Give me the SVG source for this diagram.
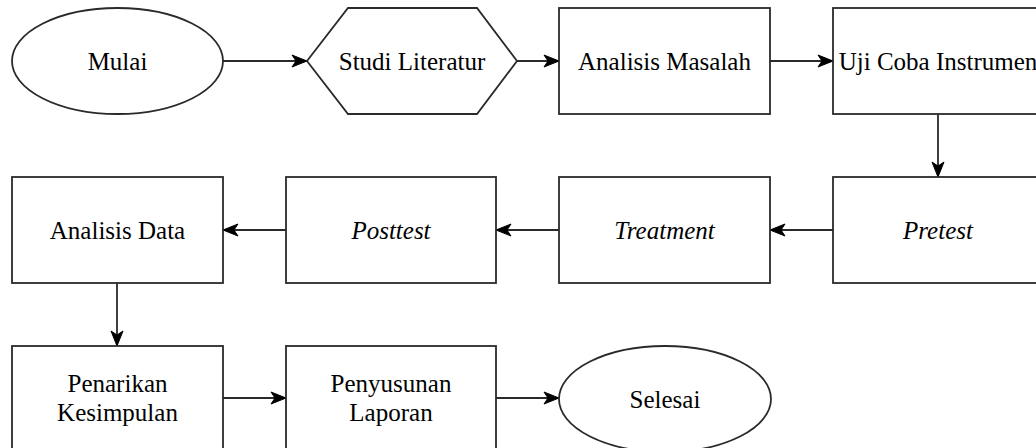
<svg xmlns="http://www.w3.org/2000/svg" width="1036" height="448" viewBox="0 0 1036 448">
<defs>
<style>
.shape{fill:#ffffff;stroke:#2a2a2a;stroke-width:1.8}
.lbl{font-family:'Liberation Serif','Times New Roman','DejaVu Serif',serif;font-size:25px;fill:#000;text-anchor:middle}
.it{font-style:italic}
.edge{fill:none;stroke:#2a2a2a;stroke-width:1.8;marker-end:url(#arr)}
</style>
<marker id="arr" markerUnits="userSpaceOnUse" markerWidth="18" markerHeight="16" viewBox="0 0 18 16" refX="17" refY="8" orient="auto">
<path d="M2,2 L17,8 L2,14 L6,8 z" fill="#000" stroke="#000" stroke-width="1" stroke-linejoin="miter"/>
</marker>
</defs>
<rect width="1036" height="448" fill="#ffffff"/>
<g id="connectors">
<line class="edge" x1="223" y1="61" x2="307" y2="61"/>
<line class="edge" x1="517" y1="61" x2="559" y2="61"/>
<line class="edge" x1="770" y1="61" x2="833" y2="61"/>
<line class="edge" x1="938" y1="114" x2="938" y2="177"/>
<line class="edge" x1="833" y1="230" x2="770" y2="230"/>
<line class="edge" x1="559" y1="230" x2="496" y2="230"/>
<line class="edge" x1="286" y1="230" x2="223" y2="230"/>
<line class="edge" x1="117" y1="283" x2="117" y2="346"/>
<line class="edge" x1="223" y1="398" x2="286" y2="398"/>
<line class="edge" x1="496" y1="398" x2="559" y2="398"/>
</g>
<g font-family="Liberation Serif, Times New Roman, DejaVu Serif, serif">
<g id="mulai">
<ellipse class="shape" cx="117.5" cy="61" rx="105.5" ry="53"/>
<text class="lbl" x="117.5" y="70" font-family="Liberation Serif, serif">Mulai</text>
</g>
<g id="studi-literatur">
<polygon class="shape" points="307,61 348,8 477,8 517,61 477,114 348,114"/>
<text class="lbl" x="412" y="70" font-family="Liberation Serif, serif">Studi Literatur</text>
</g>
<g id="analisis-masalah">
<rect class="shape" x="559" y="8" width="211" height="106"/>
<text class="lbl" x="664.5" y="70" font-family="Liberation Serif, serif">Analisis Masalah</text>
</g>
<g id="uji-coba">
<rect class="shape" x="833" y="8" width="211" height="106"/>
<text class="lbl" x="938" y="70" font-family="Liberation Serif, serif">Uji Coba Instrumen</text>
</g>
<g id="pretest">
<rect class="shape" x="833" y="177" width="211" height="106"/>
<text class="lbl it" x="938" y="239" font-family="Liberation Serif, serif">Pretest</text>
</g>
<g id="treatment">
<rect class="shape" x="559" y="177" width="211" height="106"/>
<text class="lbl it" x="664.5" y="239" font-family="Liberation Serif, serif">Treatment</text>
</g>
<g id="posttest">
<rect class="shape" x="286" y="177" width="210" height="106"/>
<text class="lbl it" x="391" y="239" font-family="Liberation Serif, serif">Posttest</text>
</g>
<g id="analisis-data">
<rect class="shape" x="12" y="177" width="211" height="106"/>
<text class="lbl" x="117.5" y="239" font-family="Liberation Serif, serif">Analisis Data</text>
</g>
<g id="penarikan-kesimpulan">
<rect class="shape" x="12" y="346" width="211" height="106"/>
<text class="lbl" x="117.5" y="392" font-family="Liberation Serif, serif">Penarikan</text>
<text class="lbl" x="117.5" y="421" font-family="Liberation Serif, serif">Kesimpulan</text>
</g>
<g id="penyusunan-laporan">
<rect class="shape" x="286" y="346" width="210" height="106"/>
<text class="lbl" x="391" y="392" font-family="Liberation Serif, serif">Penyusunan</text>
<text class="lbl" x="391" y="421" font-family="Liberation Serif, serif">Laporan</text>
</g>
<g id="selesai">
<ellipse class="shape" cx="665" cy="399" rx="106" ry="53"/>
<text class="lbl" x="665" y="408" font-family="Liberation Serif, serif">Selesai</text>
</g>
</g>
</svg>
